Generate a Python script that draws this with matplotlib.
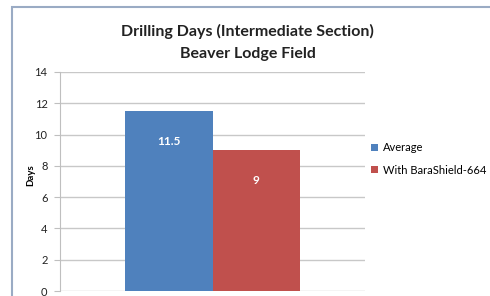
import matplotlib
matplotlib.use("Agg")
from matplotlib import pyplot as plt
from matplotlib.patches import Rectangle

plt.rcParams['font.family'] = ['Lato', 'DejaVu Sans']

series = ["Average", "With BaraShield-664"]
values = [11.5, 9]
colors = ["#4F81BD", "#C0504D"]
yticks = [0, 2, 4, 6, 8, 10, 12, 14]

fig = plt.figure(figsize=(4.9, 2.96), dpi=100)
fig.patches.append(Rectangle((12/490, -0.1), 1.2, 1 - 7/296 + 0.1, transform=fig.transFigure,
                             fill=False, edgecolor="#9aabc4", linewidth=1.5))

ax = fig.add_axes([60/490, 5/296, 305/490, (291 - 72)/296])
positions = [-0.5, 0.5]
for pos, val, col, lab in zip(positions, values, colors, series):
    ax.bar(pos, val, width=1.0, color=col, label=lab, zorder=3)
    ax.annotate("%g" % val, (pos, val), xytext=(0, -26), textcoords="offset points",
                ha="center", va="bottom", color="white", fontsize=8.5, fontweight="bold", zorder=4)

ax.set_xlim(-1.75, 1.75)
ax.set_ylim(0, 14)
ax.set_yticks(yticks)
ax.set_xticks([])
ax.grid(axis="y", color="#c8c8c8", linewidth=1, zorder=0)
for s in ["top", "right", "bottom"]:
    ax.spines[s].set_visible(False)
ax.spines["left"].set_color("#bfbfbf")
ax.tick_params(axis="y", length=4, color="#bfbfbf", labelsize=8, pad=5, labelcolor="#222222")
ax.set_ylabel("Days", fontsize=7, fontweight="bold")
ax.yaxis.set_label_coords(-0.082, 0.53)

fig.text(0.505, 0.892, "Drilling Days (Intermediate Section)", ha="center", va="center",
         fontsize=11.5, fontweight="bold", color="#222222")
fig.text(0.505, 0.818, "Beaver Lodge Field", ha="center", va="center",
         fontsize=11.5, fontweight="bold", color="#222222")

ax.legend(loc="upper left", bbox_to_anchor=(367/490, 158/296), bbox_transform=fig.transFigure,
          frameon=False, fontsize=8, handlelength=0.6, handleheight=0.6, handletextpad=0.4,
          labelspacing=1.0, borderaxespad=0)

fig.savefig("out.png", dpi=100)
